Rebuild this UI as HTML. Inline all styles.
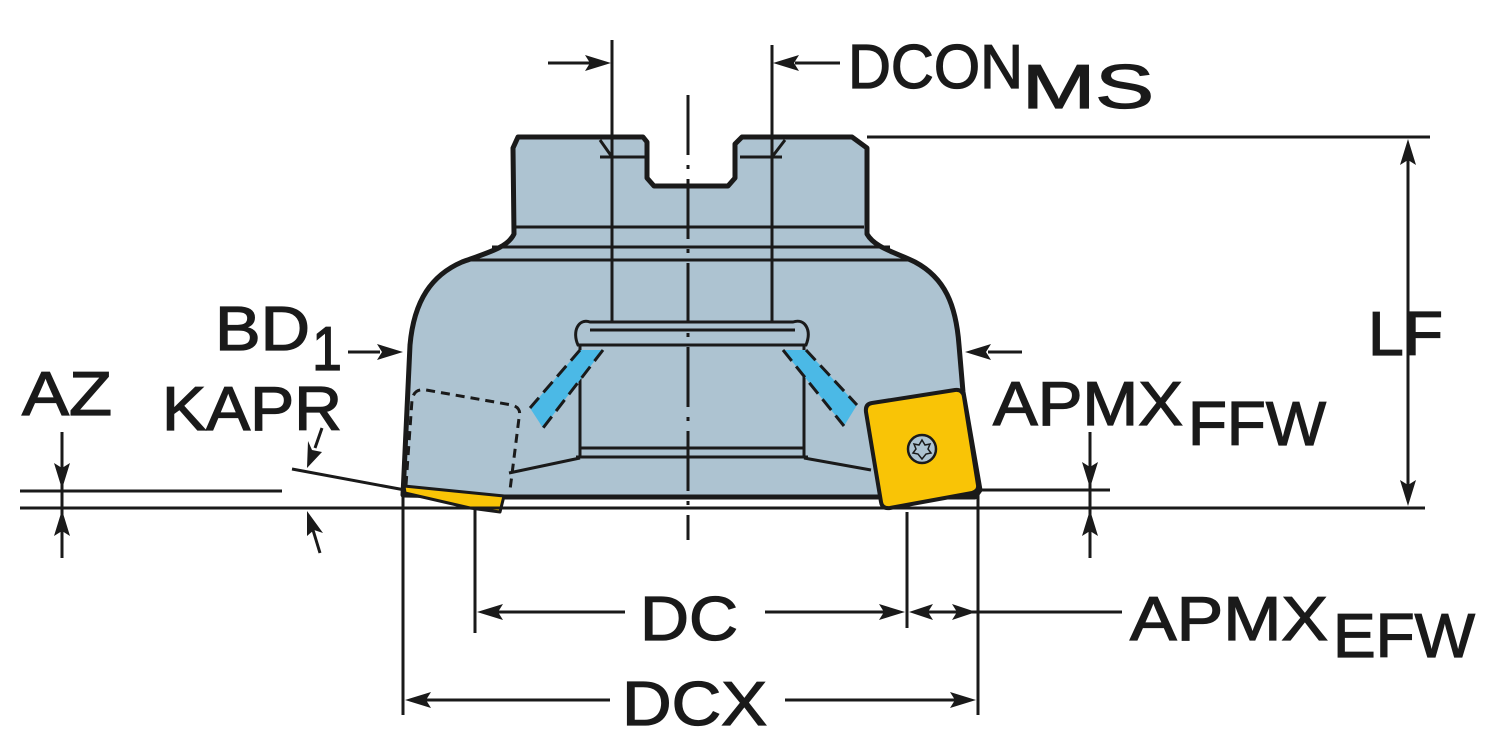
<!DOCTYPE html>
<html><head><meta charset="utf-8"><style>
html,body{margin:0;padding:0;background:#fff;}
svg{display:block;}
text{font-family:"Liberation Sans",Arial,sans-serif;fill:#1a1a1a;stroke:#1a1a1a;stroke-width:1.3;}
</style></head><body>
<svg width="1500" height="750" viewBox="0 0 1500 750" xmlns="http://www.w3.org/2000/svg">
<g stroke="#1a1a1a" fill="none">
<path d="M518,137 L643,137 L647,142 L647,178 L654,186 L728,186 L735,178 L735,144 L742,137 L852,137 L867,148 L867,234 C875,248 895,252 915,262 C945,278 956,305 959,345 L963,392 L980,490 L975,497 L505,497 L403,495 L410,345 C414,300 432,275 462,262 C490,252 508,247 514,234 L513,148 Z" fill="#adc3d1" stroke-width="5" stroke-linejoin="round"/>
<g stroke-width="3">
<line x1="516" y1="227" x2="864" y2="227"/>
<line x1="492" y1="247" x2="890" y2="247"/>
<line x1="470" y1="260" x2="910" y2="260"/>
<line x1="600" y1="157" x2="645" y2="157"/>
<line x1="740" y1="157" x2="782" y2="157"/>
<line x1="600" y1="140" x2="612" y2="157"/>
<line x1="785" y1="140" x2="772" y2="157"/>
</g>
<path d="M590,322 L793,322 C805,318 812,330 806,345 L578,345 C572,332 578,318 590,322 Z" stroke-width="3" fill="#adc3d1"/>
<line x1="590" y1="330" x2="795" y2="330" stroke-width="3"/>
<line x1="580" y1="345" x2="580" y2="458" stroke-width="3"/>
<line x1="804" y1="345" x2="804" y2="458" stroke-width="3"/>
<line x1="580" y1="448" x2="804" y2="448" stroke-width="3"/>
<line x1="576" y1="457" x2="808" y2="457" stroke-width="3"/>
<path d="M580,458 L509,473" stroke-width="3"/>
<path d="M804,458 L871,470" stroke-width="3"/>
<path d="M580,350 L603,350 L543,428 L530,408 Z" fill="#4bb9e6" stroke="none"/>
<path d="M783,350 L806,350 L857,405 L844,426 Z" fill="#4bb9e6" stroke="none"/>
<path d="M603,350 L543,428 M580,350 L530,408 M783,350 L844,426 M806,350 L857,405" stroke-width="3" stroke-dasharray="14,7"/>
<path d="M406,485 L412,400 Q414,388 426,390 L512,405 Q522,408 519,418 L510,490" stroke-width="3" stroke-dasharray="9,6"/>
<path d="M404,486 L504,496 L500,512 L470,508 L405,493 Z" fill="#f9c406" stroke-width="3" stroke-linejoin="round"/>
<path d="M872,403 L955,390 Q963,389 964,397 L978,485 Q979,491 972,493 L890,508 Q882,509 881,502 L866,412 Q865,404 872,403 Z" fill="#f9c406" stroke-width="4" stroke-linejoin="round"/>
<circle cx="922" cy="449" r="14" fill="#adc3d1" stroke-width="2.5"/>
<path d="M922,440 L925,445 L930,444 L928,449 L931,453 L926,454 L922,459 L918,454 L913,453 L916,449 L914,444 L919,445 Z" fill="#adc3d1" stroke-width="1.5"/>
</g>
<g stroke="#1a1a1a" stroke-width="3" fill="none">
<line x1="612" y1="40" x2="612" y2="322"/>
<line x1="772" y1="45" x2="772" y2="322"/>
<line x1="548" y1="63" x2="590" y2="63"/>
<line x1="840" y1="63" x2="795" y2="63"/>
<line x1="688" y1="95" x2="688" y2="540" stroke-dasharray="60,10,4,10"/>
<line x1="867" y1="137" x2="1430" y2="137"/>
<line x1="1408" y1="160" x2="1408" y2="486"/>
<line x1="20" y1="508" x2="1425" y2="508"/>
<line x1="20" y1="491" x2="282" y2="491"/>
<line x1="980" y1="490" x2="1110" y2="490"/>
<line x1="62" y1="432" x2="62" y2="558"/>
<line x1="292" y1="469" x2="405" y2="490"/>
<line x1="322" y1="428" x2="315" y2="448"/>
<line x1="320" y1="553" x2="313" y2="530"/>
<line x1="348" y1="352" x2="380" y2="352"/>
<line x1="1022" y1="352" x2="988" y2="352"/>
<line x1="1090" y1="432" x2="1090" y2="558"/>
<line x1="475" y1="510" x2="475" y2="633"/>
<line x1="907" y1="512" x2="907" y2="628"/>
<line x1="978" y1="495" x2="978" y2="715"/>
<line x1="403" y1="497" x2="403" y2="715"/>
<line x1="625" y1="612" x2="490" y2="612"/>
<line x1="765" y1="612" x2="890" y2="612"/>
<line x1="920" y1="612" x2="1122" y2="612"/>
<line x1="610" y1="700" x2="420" y2="700"/>
<line x1="785" y1="700" x2="960" y2="700"/>
</g>
<!-- arrowheads -->
<g fill="#1a1a1a">
<path d="M611,63 l-26,-8 l5,8 l-5,8 z"/>
<path d="M773,63 l26,-8 l-5,8 l5,8 z"/>
<path d="M1408,139 l-8,26 l8,-5 l8,5 z"/>
<path d="M1408,506 l-8,-26 l8,5 l8,-5 z"/>
<path d="M62,489 l-8,-26 l8,5 l8,-5 z"/>
<path d="M62,510 l-8,26 l8,-5 l8,5 z"/>
<path d="M307,468 l1,-27 l4,9 l10,2 z"/>
<path d="M307,511 l16,22 l-9,-3 l-7,6 z"/>
<path d="M403,352 l-26,-8 l5,8 l-5,8 z"/>
<path d="M965,352 l26,-8 l-5,8 l5,8 z"/>
<path d="M1090,488 l-8,-26 l8,5 l8,-5 z"/>
<path d="M1090,510 l-8,26 l8,-5 l8,5 z"/>
<path d="M477,612 l26,-8 l-5,8 l5,8 z"/>
<path d="M905,612 l-26,-8 l5,8 l-5,8 z"/>
<path d="M909,612 l24,-8 l-5,8 l5,8 z"/>
<path d="M976,612 l-24,-8 l5,8 l-5,8 z"/>
<path d="M405,700 l26,-8 l-5,8 l5,8 z"/>
<path d="M976,700 l-26,-8 l5,8 l-5,8 z"/>
</g>
<g font-size="62">
<text x="848" y="88" textLength="175" lengthAdjust="spacingAndGlyphs">DCON</text>
<text x="1022" y="108" textLength="132" lengthAdjust="spacingAndGlyphs">MS</text>
<text x="215" y="350" textLength="95" lengthAdjust="spacingAndGlyphs">BD</text>
<text x="312" y="370" textLength="30" lengthAdjust="spacingAndGlyphs">1</text>
<text x="22" y="415" textLength="90" lengthAdjust="spacingAndGlyphs">AZ</text>
<text x="162" y="430" textLength="180" lengthAdjust="spacingAndGlyphs">KAPR</text>
<text x="1368" y="355" textLength="75" lengthAdjust="spacingAndGlyphs">LF</text>
<text x="993" y="425" textLength="190" lengthAdjust="spacingAndGlyphs">APMX</text>
<text x="1188" y="445" textLength="138" lengthAdjust="spacingAndGlyphs">FFW</text>
<text x="640" y="640" textLength="98" lengthAdjust="spacingAndGlyphs">DC</text>
<text x="1130" y="640" textLength="198" lengthAdjust="spacingAndGlyphs">APMX</text>
<text x="1333" y="657" textLength="142" lengthAdjust="spacingAndGlyphs">EFW</text>
<text x="622" y="725" textLength="145" lengthAdjust="spacingAndGlyphs">DCX</text>
</g>
</svg>
</body></html>
